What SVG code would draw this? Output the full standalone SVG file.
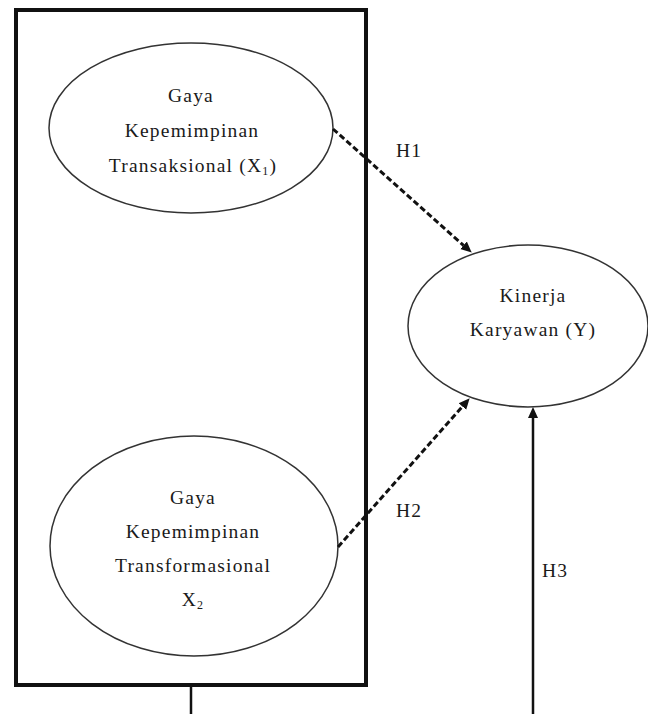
<svg xmlns="http://www.w3.org/2000/svg" width="648" height="714" viewBox="0 0 648 714">
<style>
.bg{fill:#ffffff}
.frame{fill:none;stroke:#111;stroke-width:4}
.node{fill:#ffffff;stroke:#333;stroke-width:1.5}
.lbl{font-family:"Liberation Serif","Times New Roman",serif;font-size:19.5px;letter-spacing:1.2px;fill:#1a1a1a;text-anchor:middle}
.sub{font-size:12px}
.dash{fill:none;stroke:#111;stroke-width:3;stroke-dasharray:6 3}
.solid{fill:none;stroke:#111;stroke-width:2.5}
</style>
<defs>
<marker id="arr" markerUnits="userSpaceOnUse" viewBox="0 -6 12 12" refX="0" refY="0" markerWidth="12" markerHeight="12" orient="auto">
<path d="M0,-5 L11,0 L0,5 z" fill="#111"/>
</marker>
</defs>
<rect class="bg" x="0" y="0" width="648" height="714"/>
<g id="frame">
<rect class="frame" x="16" y="10" width="350" height="675"/>
<line class="solid" x1="191" y1="687" x2="191" y2="714" stroke-width="2"/>
</g>
<g id="node-x1">
<ellipse class="node" cx="191" cy="128" rx="142" ry="85"/>
<text class="lbl" x="191" y="102">Gaya</text>
<text class="lbl" x="192" y="137">Kepemimpinan</text>
<text class="lbl" x="193" y="172">Transaksional (X<tspan class="sub" dy="3">1</tspan><tspan dy="-3">)</tspan></text>
</g>
<g id="node-x2">
<ellipse class="node" cx="194" cy="546" rx="144" ry="110"/>
<text class="lbl" x="193" y="504">Gaya</text>
<text class="lbl" x="193" y="538">Kepemimpinan</text>
<text class="lbl" x="193" y="572">Transformasional</text>
<text class="lbl" x="193" y="606">X<tspan class="sub" dy="3">2</tspan></text>
</g>
<g id="node-y">
<ellipse class="node" cx="528" cy="326" rx="120" ry="81"/>
<text class="lbl" x="533" y="302">Kinerja</text>
<text class="lbl" x="533" y="336">Karyawan (Y)</text>
</g>
<g id="connectors">
<line class="dash" x1="333" y1="129" x2="463.5" y2="245.3" marker-end="url(#arr)"/>
<line class="dash" x1="338" y1="547" x2="462.4" y2="406.5" marker-end="url(#arr)"/>
<line class="solid" x1="533" y1="714" x2="533" y2="418" marker-end="url(#arr)"/>
<text class="lbl" x="409" y="157">H1</text>
<text class="lbl" x="409" y="517">H2</text>
<text class="lbl" x="555" y="577">H3</text>
</g>
</svg>
